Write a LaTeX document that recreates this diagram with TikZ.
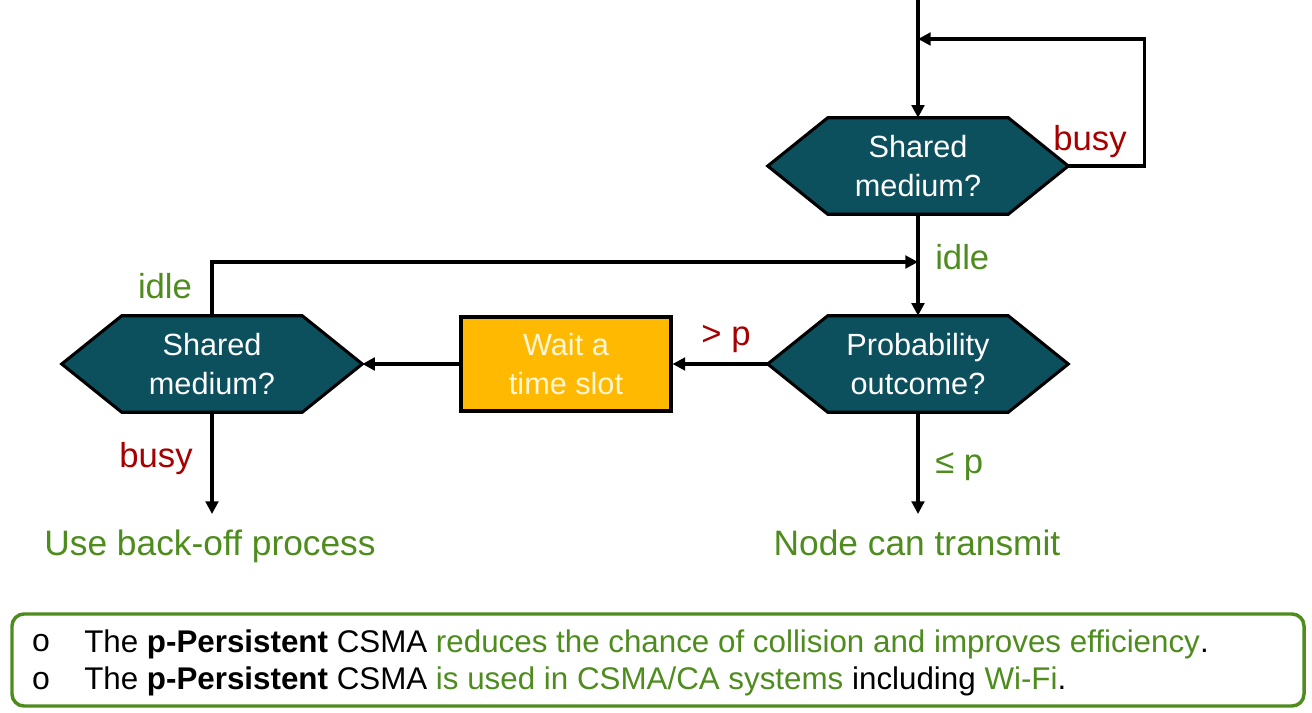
\documentclass[tikz,border=0pt]{standalone}
\usepackage{fontspec}
\setmainfont{Liberation Sans}
\usetikzlibrary{arrows.meta,backgrounds,calc}
\definecolor{hexteal}{RGB}{12,79,93}
\definecolor{slotfill}{RGB}{255,185,0}
\definecolor{slottext}{RGB}{255,246,214}
\definecolor{okgreen}{RGB}{78,140,30}
\definecolor{busyred}{RGB}{166,0,0}
\newcommand\drawhex[1]{\draw[hexline] (#1.west) -- ([xshift=45pt]#1.north west) -- ([xshift=-45pt]#1.north east) -- (#1.east) -- ([xshift=-45pt]#1.south east) -- ([xshift=45pt]#1.south west) -- cycle;}
\begin{document}
\begin{tikzpicture}[x=0.75pt,y=-0.75pt,
  hexbox/.style={rectangle, draw=none, minimum width=225pt, minimum height=72pt, inner sep=0pt,
    text=white, align=center, font=\fontsize{23pt}{29pt}\selectfont},
  hexline/.style={draw=black, fill=hexteal, line width=2.3pt, line join=miter},
  slotbox/.style={rectangle, draw=black, fill=slotfill, line width=2.3pt, minimum width=157.5pt,
    minimum height=70.5pt, inner sep=0pt, text=slottext, align=center, font=\fontsize{23pt}{29pt}\selectfont},
  conn/.style={draw=black, line width=2.3pt, -{Triangle[length=9.5pt,width=9.5pt]}},
  lbl/.style={inner sep=0pt, font=\fontsize{26pt}{30pt}\selectfont},
  res/.style={inner sep=0pt, text=okgreen, font=\fontsize{26.5pt}{30pt}\selectfont},
  notebox/.style={draw=okgreen, line width=2.6pt, rounded corners=9pt, minimum width=969pt, minimum height=69pt, inner sep=0pt},
  notetext/.style={inner sep=0pt, font=\fontsize{23.5pt}{28pt}\selectfont},
  bullet/.style={inner sep=0pt, font=\fontsize{24pt}{26pt}\selectfont}
]
\useasboundingbox (0,0) rectangle (1312,713);

% nodes
\node[hexbox] (S1) at (918,166) {Shared\\medium?};
\node[hexbox] (P) at (918,364) {Probability\\outcome?};
\node[hexbox] (L) at (212,364) {Shared\\medium?};
\node[slotbox] (W) at (566,364) {Wait a\\time slot};

\begin{pgfonlayer}{background}
\drawhex{S1}
\drawhex{P}
\drawhex{L}
\end{pgfonlayer}

\coordinate (top) at (918,-3);
\coordinate (loopc) at (918,39);
\coordinate (junc) at (918,262);
\node[res, anchor=base] (back) at (210,555) {Use back-off process};
\node[res, anchor=base] (tx) at (917,555) {Node can transmit};
\coordinate (backend) at (212,514);
\coordinate (txend) at (918,514);

% connectors
\draw[conn] (top) -- (S1.north);
\draw[conn] (S1.east) -- ++(76,0) |- (loopc);
\draw[conn] (S1.south) -- (P.north);
\draw[conn] (L.north) |- (junc);
\draw[conn] (P.west) -- (W.east);
\draw[conn] (W.west) -- (L.east);
\draw[conn] (L.south) -- (backend);
\draw[conn] (P.south) -- (txend);

% labels
\node[lbl, text=busyred, anchor=base] (busy1) at (1090,151) {busy};
\node[lbl, text=okgreen, anchor=base west] (idle1) at (935,269) {idle};
\node[lbl, text=okgreen, anchor=base] (idle2) at (165,298) {idle};
\node[lbl, text=busyred, anchor=base] (gtp) at (726,345) {> p};
\node[lbl, text=okgreen, anchor=base west] (lep) at (935,473) {≤ p};
\node[lbl, text=busyred, anchor=base] (busy2) at (156,467) {busy};

% note box
\node[notebox] (note) at (658,660) {};
\node[bullet] (b1) at (41,643) {o};
\node[bullet] (b2) at (41,681) {o};
\node[notetext, anchor=base west] (t1) at (84,652) {The \textbf{p-Persistent} CSMA \textcolor{okgreen}{reduces the chance of collision and improves efficiency}.};
\node[notetext, anchor=base west] (t2) at (84,689) {The \textbf{p-Persistent} CSMA \textcolor{okgreen}{is used in CSMA/CA systems} including \textcolor{okgreen}{Wi-Fi}.};
\end{tikzpicture}
\end{document}
